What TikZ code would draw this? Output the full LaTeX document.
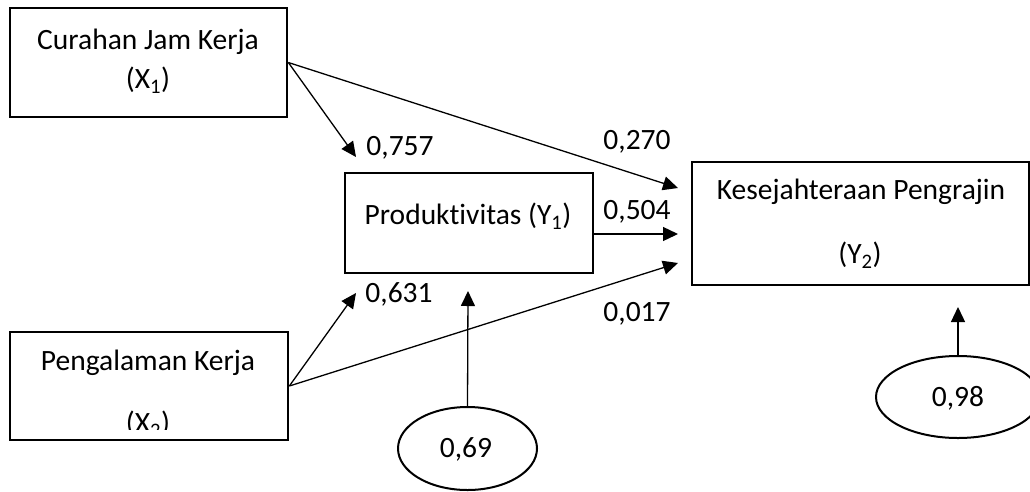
\documentclass[tikz,border=0pt]{standalone}
\usepackage{fontspec}
\setmainfont{Carlito}[Ligatures={NoCommon,NoRequired,NoContextual}]
\usetikzlibrary{arrows.meta,shapes.geometric}
\begin{document}
\begin{tikzpicture}[x=1pt,y=-1pt,
  txt/.style={font=\fontsize{29.5}{35}\selectfont, inner sep=0pt},
  varbox/.style={draw, line width=2.7pt, inner sep=0pt},
  resid/.style={draw, ellipse, line width=2pt, inner sep=0pt},
  path/.style={line width=1.3pt, -{Triangle[length=15pt,width=14pt]}},
  coef/.style={txt, anchor=base}]
\useasboundingbox (0,0) rectangle (1030,491);
% boxes
\node[varbox, minimum width=277pt, minimum height=109pt] (X1) at (148.5,62.5) {};
\node[varbox, minimum width=278pt, minimum height=108pt] (X2) at (149,386) {};
\node[varbox, minimum width=248pt, minimum height=100pt] (Y1) at (469,223) {};
\node[varbox, minimum width=337pt, minimum height=123pt] (Y2) at (860.5,223.5) {};
% texts
\node[txt] (tX1a) at (148,42) {Curahan Jam Kerja};
\node[txt] (tX1b) at (148,80) {(X\textsubscript{1})};
\node[txt] (tX2a) at (148,363) {Pengalaman Kerja};
\begin{scope}
\clip (10,332) rectangle (288,429);
\node[txt] (tX2b) at (148,424) {(X\textsubscript{2})};
\end{scope}
\node[txt] (tY1) at (468,216) {Produktivitas (Y\textsubscript{1})};
\node[txt] (tY2a) at (861,192) {Kesejahteraan Pengrajin};
\node[txt] (tY2b) at (860,255) {(Y\textsubscript{2})};
% residual ellipses
\node[resid, minimum width=139pt, minimum height=83pt] (e1) at (467.5,448.5) {};
\node[txt] (te1) at (466,449) {0,69};
\begin{scope}
\clip (0,0) rectangle (1030,491);
\node[resid, minimum width=164pt, minimum height=82pt] (e2) at (958,397) {};
\end{scope}
\node[txt] (te2) at (958,398) {0,98};
% arrow end points
\coordinate (t757) at (356,157);
\coordinate (t270) at (678,188);
\coordinate (t504) at (678,234);
\coordinate (t017) at (678,263);
\coordinate (t631) at (356,293);
\coordinate (te1tip) at (468,291);
\coordinate (te2tip) at (958,307);
% connectors
\draw[path] (X1.east) -- (t757);
\draw[path] (X1.east) -- (t270);
\draw[path] (Y1.east |- t504) -- (t504);
\draw[path] (X2.east) -- (t017);
\draw[path] (X2.east) -- (t631);
\draw[path] (e1.north) -- (te1tip);
\draw[path] (e2.north) -- (te2tip);
% coefficients
\node[coef] (c757) at (400,155) {0,757};
\node[coef] (c270) at (637,149) {0,270};
\node[coef] (c504) at (637,219) {0,504};
\node[coef] (c631) at (399,302) {0,631};
\node[coef] (c017) at (637,321) {0,017};
\end{tikzpicture}
\end{document}
